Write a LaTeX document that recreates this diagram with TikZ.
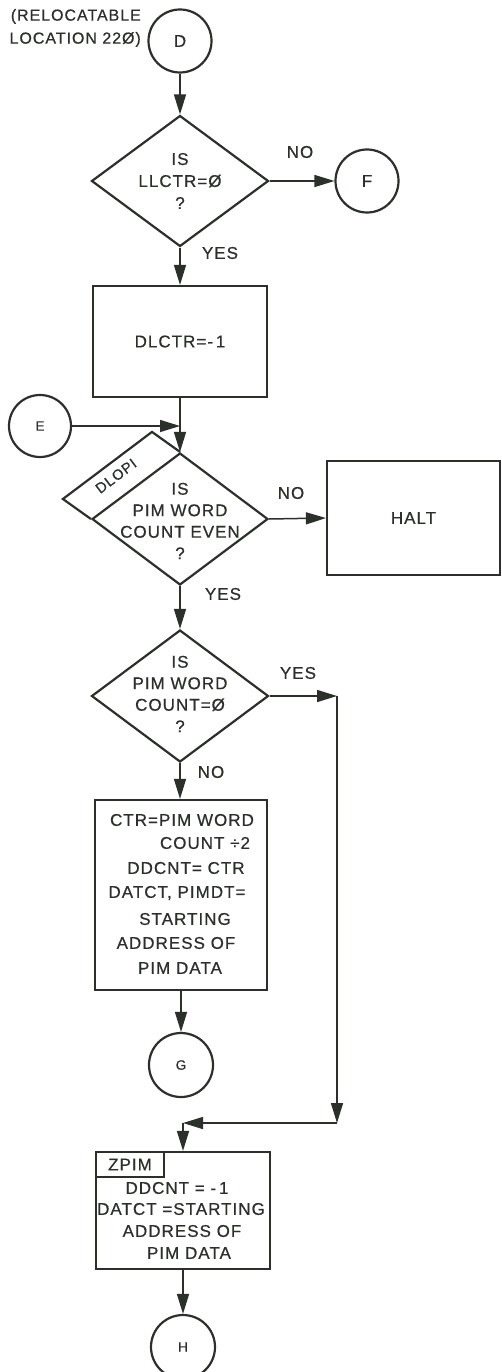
\documentclass[tikz,border=0pt]{standalone}
\usepackage{fontspec}
\setmainfont{Liberation Sans}[LetterSpace=6,FakeBold=0.6]
\usetikzlibrary{shapes.geometric,arrows.meta}
\definecolor{ink}{rgb}{0.17,0.19,0.17}
\tikzset{
  shp/.style={draw=ink, line width=2.2pt, inner sep=0pt},
  dia/.style={shp, diamond, minimum width=177pt, minimum height=131pt},
  conn/.style={shp, circle, minimum size=63pt},
  box/.style={shp, rectangle},
  txt/.style={text=ink, font=\fontsize{17}{20}\selectfont, inner sep=0pt, align=center},
  small/.style={text=ink, font=\fontsize{13.5}{15}\selectfont, inner sep=0pt},
  arr/.style={draw=ink, line width=1.5pt, -{Triangle[length=20pt,width=12pt]}},
  ln/.style={draw=ink, line width=1.5pt}
}
\begin{document}
\begin{tikzpicture}[x=1pt,y=-1pt]
\useasboundingbox (0,0) rectangle (502,1372);

% top
\node[txt, align=right, anchor=east, font=\fontsize{16}{23}\selectfont] (rel) at (141,28) {(RELOCATABLE\\LOCATION 22Ø)};
\node[conn] (D) at (180,41) {};
\node[txt] at (D) {D};

\node[dia] (d1) at (180,181) {};
\node[txt, font=\fontsize{17}{22}\selectfont] at (d1) {IS\\LLCTR=Ø\\?};
\node[conn] (F) at (367,181) {};
\node[txt] at (F) {F};
\node[txt] (no1) at (300,152) {NO};
\node[txt] (yes1) at (220,253) {YES};

\node[box, minimum width=174pt, minimum height=111pt] (r1) at (180,341.5) {};
\node[txt] at (r1) {DLCTR=-\,1};

\node[conn, minimum size=62pt] (E) at (40,426) {};
\node[small] at (E) {E};
\coordinate (m) at (180,426);

\node[dia, minimum width=176pt, minimum height=132pt] (d2) at (180,519) {};
\node[txt, font=\fontsize{17}{21.5}\selectfont] at (180,521) {IS\\PIM WORD\\COUNT EVEN\\?};
\draw[shp] (d2.west) -- ++(-28,-20) -- ([xshift=-28pt,yshift=20pt]d2.north) -- (d2.north);
\node[txt, rotate=37, font=\fontsize{14.5}{16}\selectfont] (dlopi) at (116,476) {DLOPI};
\node[txt] (no2) at (291,493) {NO};
\node[box, minimum width=173pt, minimum height=114pt] (halt) at (413.5,518) {};
\node[txt] at (halt) {HALT};
\node[txt] (yes2) at (223,594) {YES};

\node[dia, minimum width=177pt, minimum height=132pt] (d3) at (180,696) {};
\node[txt, font=\fontsize{17}{21.5}\selectfont] at (180,694) {IS\\PIM WORD\\COUNT=Ø\\?};
\node[txt] (yes3) at (298,673) {YES};
\node[txt] (no3) at (211,772) {NO};

\node[box, minimum width=172pt, minimum height=190pt] (r2) at (181,895) {};
\node[txt] at (182,820) {CTR=PIM WORD};
\node[txt] at (205,843) {COUNT ÷2};
\node[txt] at (186,868) {DDCNT= CTR};
\node[txt] at (177,893) {DATCT, PIMDT=};
\node[txt] at (185,919) {STARTING};
\node[txt] at (176,943) {ADDRESS OF};
\node[txt] at (180,968) {PIM DATA};

\node[conn, minimum size=64pt] (G) at (181,1065) {};
\node[small] at (G) {G};

\coordinate (c1) at (337,696);
\coordinate (c2) at (337,1123);
\coordinate (c3) at (183,1123);

\node[box, minimum width=174pt, minimum height=117pt] (r3) at (183,1210.5) {};
\node[box, minimum width=68pt, minimum height=25pt, anchor=north west] (ztab) at (r3.north west) {};
\node[txt] at (ztab) {ZPIM};
\node[txt] at (177,1188) {DDCNT = -\,1};
\node[txt] at (181,1209) {DATCT =STARTING};
\node[txt] at (182,1231) {ADDRESS OF};
\node[txt] at (189,1253) {PIM DATA};

\node[conn, minimum size=64pt] (H) at (183,1347) {};
\node[small] at (H) {H};

% connectors
\draw[arr] (D) -- (d1.north);
\draw[arr] (d1.east) -- (F);
\draw[arr] (d1.south) -- (r1.north);
\draw[arr] (r1.south) -- (d2.north);
\draw[arr] (E) -- (m);
\draw[arr] (d2.east) -- (halt.west);
\draw[arr] (d2.south) -- (d3.north);
\draw[arr] (d3.south) -- (d3.south |- r2.north);
\draw[arr] (r2.south -| G) -- (G);
\draw[arr] (d3.east) -- (c1);
\draw[arr] (c1) -- (c2);
\draw[arr] (c2) -- (c3);
\draw[arr] (c3) -- (r3.north);
\draw[arr] (r3.south) -- (H);
\end{tikzpicture}
\end{document}
